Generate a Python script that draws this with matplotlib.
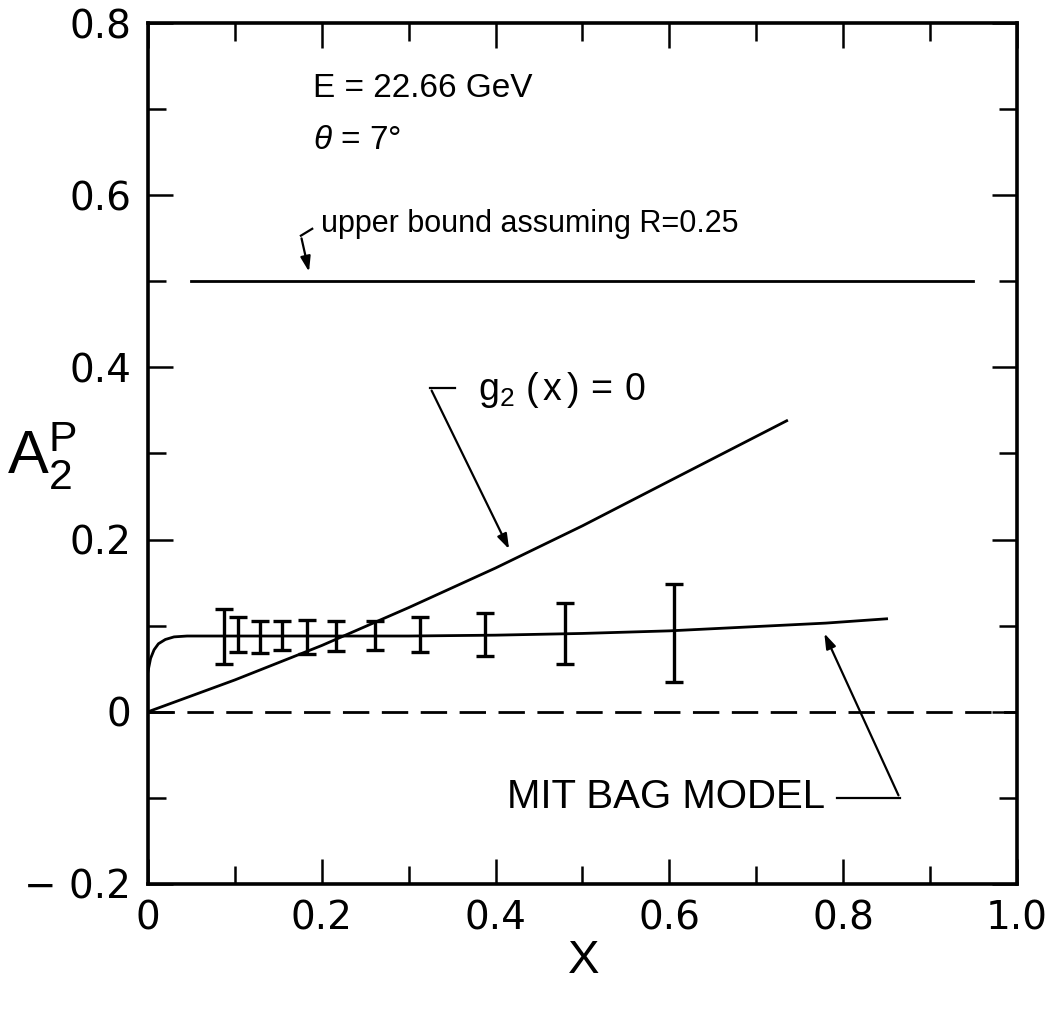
import matplotlib
matplotlib.use("Agg")
import matplotlib.pyplot as plt
from matplotlib.ticker import MultipleLocator

# ---------------------------
# data
# ---------------------------

# projected data points (x, A2, error)
x_pts = [0.087, 0.104, 0.129, 0.154, 0.183, 0.216, 0.261, 0.313, 0.388, 0.480, 0.605]
a2_pts = [0.087, 0.090, 0.087, 0.089, 0.087, 0.088, 0.089, 0.090, 0.090, 0.091, 0.092]
a2_err = [0.032, 0.020, 0.019, 0.017, 0.020, 0.017, 0.017, 0.020, 0.025, 0.035, 0.057]

# MIT bag model curve
bag_x = [0.0, 0.003, 0.007, 0.012, 0.02, 0.03, 0.045, 0.1, 0.2, 0.3, 0.4, 0.5, 0.6, 0.7, 0.78, 0.85]
bag_y = [0.047, 0.062, 0.072, 0.079, 0.084, 0.087, 0.088, 0.088, 0.088, 0.088, 0.089, 0.091, 0.094, 0.099, 0.103, 0.108]

# g2(x) = 0 curve
g2_x = [0.0, 0.1, 0.2, 0.3, 0.4, 0.5, 0.6, 0.735]
g2_y = [0.0, 0.037, 0.077, 0.121, 0.167, 0.216, 0.268, 0.338]

# upper bound assuming R = 0.25
bound_x = [0.05, 0.95]
bound_y = [0.5, 0.5]

x_ticks = [0, 0.2, 0.4, 0.6, 0.8, 1.0]
x_labels = ["0", "0.2", "0.4", "0.6", "0.8", "1.0"]
y_ticks = [-0.2, 0, 0.2, 0.4, 0.6, 0.8]
y_labels = ["\u2212 0.2", "0", "0.2", "0.4", "0.6", "0.8"]

# ---------------------------
# figure
# ---------------------------

plt.rcParams["font.family"] = ["Liberation Sans", "DejaVu Sans"]
plt.rcParams["mathtext.fontset"] = "custom"
plt.rcParams["mathtext.rm"] = "Liberation Sans"
plt.rcParams["mathtext.it"] = "Liberation Sans:italic"

fig = plt.figure(figsize=(10.51, 10.09), dpi=100)
ax = fig.add_axes([0.1408, 0.1239, 0.8268, 0.8533])

lw = 2.0
ax.plot(bag_x, bag_y, color="black", lw=lw)
ax.plot(g2_x, g2_y, color="black", lw=lw)
ax.plot(bound_x, bound_y, color="black", lw=lw)
ax.plot([0, 1.0], [0, 0], color="black", lw=lw, linestyle=(0, (9.5, 4.5)))
ax.errorbar(x_pts, a2_pts, yerr=a2_err, fmt="none", ecolor="black",
            elinewidth=2.4, capsize=6.5, capthick=2.4)

ax.set_xlim(0, 1.0)
ax.set_ylim(-0.2, 0.8)
ax.set_xticks(x_ticks)
ax.set_xticklabels(x_labels, family="DejaVu Sans", fontsize=28)
ax.set_yticks(y_ticks)
ax.set_yticklabels(y_labels, family="DejaVu Sans", fontsize=28)
ax.xaxis.set_minor_locator(MultipleLocator(0.1))
ax.yaxis.set_minor_locator(MultipleLocator(0.1))
ax.tick_params(which="both", direction="in", top=True, right=True, width=1.8)
ax.tick_params(which="major", length=18)
ax.tick_params(which="minor", length=13)
ax.tick_params(axis="x", pad=11)
ax.tick_params(axis="y", pad=12)
for s in ax.spines.values():
    s.set_linewidth(2.6)

# axis labels
fig.text(0.040, 0.548, r"$\mathrm{A}_2^{\mathrm{P}}$", fontsize=44, ha="center", va="center")
fig.text(0.555, 0.048, "X", fontsize=34, ha="center", va="center")

# texts
ax.text(0.19, 0.724, "E = 22.66 GeV", fontsize=24, va="center")
ax.text(0.19, 0.664, r"$\theta$ = 7°", fontsize=24, va="center")
ax.text(0.199, 0.567, "upper bound assuming R=0.25", fontsize=22, va="center")
ax.text(0.38, 0.374, r"$\mathrm{g}_2\,\,(\,\mathrm{x}\,)\,=\,0$", fontsize=27, va="center")
ax.text(0.413, -0.099, "MIT BAG MODEL", fontsize=29, va="center")

arrow = dict(arrowstyle="-|>,head_length=0.9,head_width=0.3", color="black", lw=1.6)

# upper bound bracket arrow
ax.plot([0.189, 0.176], [0.561, 0.553], color="black", lw=1.6)
ax.annotate("", xy=(0.186, 0.508), xytext=(0.176, 0.553), arrowprops=arrow)

# g2 bracket arrow
ax.plot([0.353, 0.325], [0.376, 0.376], color="black", lw=1.6)
ax.annotate("", xy=(0.417, 0.186), xytext=(0.325, 0.376), arrowprops=arrow)

# MIT bag bracket arrow
ax.plot([0.793, 0.865], [-0.1, -0.1], color="black", lw=1.6)
ax.annotate("", xy=(0.777, 0.094), xytext=(0.865, -0.1), arrowprops=arrow)

plt.savefig("out.png", dpi=100)
